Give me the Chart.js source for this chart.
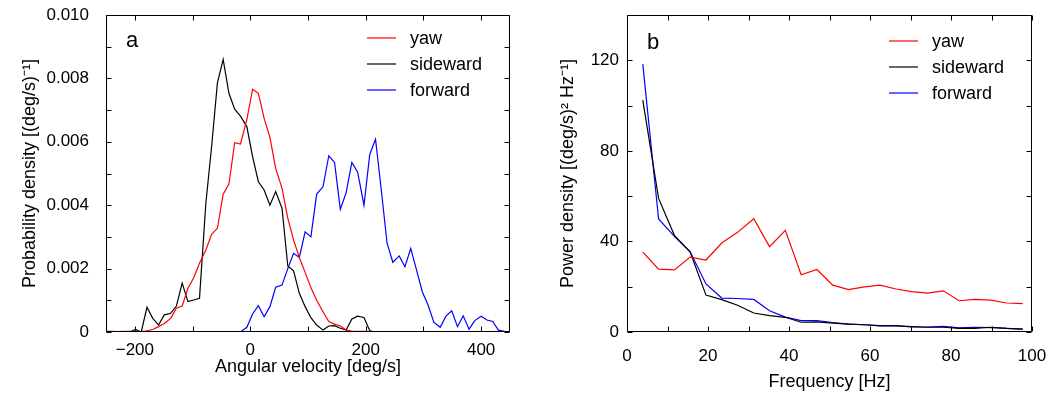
<!DOCTYPE html>
<html>
<head>
<meta charset="utf-8">
<script src="https://cdn.jsdelivr.net/npm/chart.js@4.4.1/dist/chart.umd.min.js"></script>
<style>
  body { margin: 0; background: #fff; }
  #quadro { position: relative; width: 1050px; height: 394px; font-family: 'Liberation Sans', Arial, sans-serif; color: #000; }
  canvas { position: absolute; top: 0; }
  #graficoA { left: 0; }
  #graficoB { left: 525px; }
  .letra { position: absolute; font-size: 22px; line-height: 1; }
</style>
</head>
<body>
<div id="quadro">
  <canvas id="graficoA" width="525" height="394"></canvas>
  <canvas id="graficoB" width="525" height="394"></canvas>
  <div class="letra" style="left:126px; top:29px">a</div>
  <div class="letra" style="left:647px; top:31px">b</div>
</div>
<script>
// painel a - densidade de probabilidade da velocidade angular
const angulos = [
  -250, -240, -230, -220, -209, -199, -189, -179, -169, -159,
  -149, -138, -128, -118, -108, -98, -88, -77, -67, -57,
  -47, -37, -27, -17, -6, 4, 14, 24, 34, 44,
  55, 65, 75, 85, 95, 105, 115, 126, 136, 146,
  156, 166, 176, 186, 197, 207, 217, 227, 237, 247,
  258, 268, 278, 288, 298, 308, 318, 329, 339, 349,
  359, 369, 379, 389, 400, 410, 420, 430, 440, 450
];
const densYaw = [
  0.00002, 0.00002, 0.00001, 0.00002, 0.00002, 0.00001, 0.00001, 0.00004, 0.00008, 0.00017,
  0.00027, 0.00043, 0.00075, 0.00082, 0.00138, 0.00171, 0.00217, 0.00259, 0.00308, 0.00327,
  0.00435, 0.00467, 0.00597, 0.00593, 0.0067, 0.00766, 0.00753, 0.00674, 0.00614, 0.00516,
  0.00453, 0.00359, 0.0029, 0.00235, 0.00188, 0.0014, 0.001, 0.00064, 0.00033, 0.00025,
  0.00019, 0.00006, 0.00003, 0.00002, 0.00002, 0.00001, 0.00001, 0.00001, 0.00001, 0.00001,
  0.00001, 0.00001, 0.00001, 0.00001, 0.00001, 0.00001, 0.00001, 0.00001, 0.00001, 0.00001,
  0.00001, 0.00001, 0.00001, 0.00001, 0.00001, 0.00001, 0.00001, 0.00001, 0.00001, 0.00001
];
const densLateral = [
  0, 0, 0, 0, 0, 0.00008, 0, 0.00078, 0.00043, 0.00022,
  0.00054, 0.00059, 0.00082, 0.00154, 0.00096, 0.00101, 0.00106, 0.00406, 0.00585, 0.00785,
  0.0086, 0.00753, 0.00703, 0.00681, 0.00648, 0.00553, 0.00474, 0.00448, 0.004, 0.00443,
  0.0039, 0.00208, 0.00193, 0.00122, 0.0008, 0.00045, 0.00022, 0.00006, 0.00019, 0.0002,
  0.00012, 0.00006, 0.00041, 0.0005, 0.00046, 0.00004, 0, 0, 0, 0,
  0, 0, 0, 0, 0, 0, 0, 0, 0, 0,
  0, 0, 0, 0, 0, 0, 0, 0, 0, 0
];
const densFrente = [
  0, 0, 0, 0, 0, 0, 0, 0, 0, 0,
  0, 0, 0, 0, 0, 0, 0, 0, 0, 0,
  0, 0, 0, 0, 0.00015, 0.00057, 0.00083, 0.00048, 0.0008, 0.00141,
  0.00148, 0.002, 0.00248, 0.00235, 0.00316, 0.003, 0.00435, 0.00458, 0.00556, 0.00535,
  0.00387, 0.00439, 0.00535, 0.00504, 0.004, 0.0056, 0.00608, 0.00448, 0.0028, 0.0022,
  0.0024, 0.00206, 0.00264, 0.00196, 0.00127, 0.00085, 0.00031, 0.00015, 0.0005, 0.00067,
  0.00017, 0.00051, 0.00009, 0.00036, 0.0005, 0.00038, 0.00033, 0.00006, 0.00002, 0
];
const ticksXA = [-200, -100, 0, 100, 200, 300, 400];
const rotulosXA = ['\u2212200', '', '0', '', '200', '', '400'];
const ticksYA = [0, 0.001, 0.002, 0.003, 0.004, 0.005, 0.006, 0.007, 0.008, 0.009, 0.01];
const rotulosYA = ['0', '', '0.002', '', '0.004', '', '0.006', '', '0.008', '', '0.010'];

// painel b - densidade espectral de potencia
const frequencias = [
  3.9, 7.8, 11.7, 15.6, 19.5, 23.4, 27.3, 31.3, 35.2, 39.1,
  43.0, 46.9, 50.8, 54.7, 58.6, 62.5, 66.4, 70.3, 74.2, 78.1,
  82.0, 85.9, 89.8, 93.8, 97.7
];
const potYaw = [
  35.3, 27.8, 27.4, 33.1, 31.8, 39.3, 44.0, 50.0, 37.7, 44.9,
  25.3, 27.6, 20.7, 18.7, 19.9, 20.7, 19.0, 17.8, 17.2, 18.2,
  13.8, 14.4, 14.1, 12.8, 12.5
];
const potLateral = [
  102.4, 59.0, 42.7, 35.3, 16.3, 14.3, 11.8, 8.4, 7.2, 6.5,
  4.3, 4.5, 3.9, 3.5, 3.2, 2.7, 2.7, 2.4, 2.1, 2.1,
  1.6, 1.6, 2.1, 1.6, 1.3
];
const potFrente = [
  118.3, 49.9, 42.2, 35.4, 21.2, 15.0, 14.8, 14.4, 9.4, 6.6,
  5.0, 5.0, 4.2, 3.5, 3.2, 2.8, 2.8, 2.2, 2.2, 2.5,
  1.8, 2.1, 1.9, 1.6, 1.3
];
const ticksXB = [0, 10, 20, 30, 40, 50, 60, 70, 80, 90, 100];
const rotulosXB = ['0', '', '20', '', '40', '', '60', '', '80', '', '100'];
const ticksYB = [0, 20, 40, 60, 80, 100, 120, 140];
const rotulosYB = ['0', '', '40', '', '80', '', '120', ''];

const cores = {yaw: '#ff0000', sideward: '#000000', forward: '#0000ff'};

Chart.defaults.font.family = "'Liberation Sans', Arial, sans-serif";
Chart.defaults.color = '#000';

// caixa em volta da area do grafico, com tracinhos para dentro
const moldura = {
  id: 'moldura',
  afterDatasetsDraw(chart) {
    const ctx = chart.ctx;
    const esq = Math.round(chart.chartArea.left) + 0.5;
    const dir = Math.round(chart.chartArea.right) - 0.5;
    const topo = Math.round(chart.chartArea.top) + 0.5;
    const base = Math.round(chart.chartArea.bottom) - 0.5;
    ctx.save();
    ctx.strokeStyle = '#000';
    ctx.lineWidth = 1;
    ctx.beginPath();
    ctx.rect(esq, topo, dir - esq, base - topo);
    chart.scales.x.ticks.forEach(t => {
      const px = Math.round(chart.scales.x.getPixelForValue(t.value)) + 0.5;
      ctx.moveTo(px, base); ctx.lineTo(px, base - 5);
      ctx.moveTo(px, topo); ctx.lineTo(px, topo + 5);
    });
    chart.scales.y.ticks.forEach(t => {
      const py = Math.round(chart.scales.y.getPixelForValue(t.value)) + 0.5;
      ctx.moveTo(esq, py); ctx.lineTo(esq + 5, py);
      ctx.moveTo(dir, py); ctx.lineTo(dir - 5, py);
    });
    ctx.stroke();
    ctx.restore();
  }
};

// legenda dentro do grafico, no canto de cima a direita
const legendaInterna = {
  id: 'legendaInterna',
  afterDraw(chart, args, opts) {
    const ctx = chart.ctx;
    ctx.save();
    ctx.font = "18px 'Liberation Sans', Arial, sans-serif";
    ctx.textBaseline = 'middle';
    ctx.lineWidth = 1.2;
    chart.data.datasets.forEach((ds, i) => {
      const y = opts.y + i * 26;
      ctx.strokeStyle = ds.borderColor;
      ctx.beginPath();
      ctx.moveTo(opts.x, y);
      ctx.lineTo(opts.x + 29, y);
      ctx.stroke();
      ctx.fillStyle = '#000';
      ctx.fillText(ds.label, opts.x + 43, y + 1);
    });
    ctx.restore();
  }
};

// tira a folga que o Chart.js reserva para os rotulos das pontas
function semFolga(eixo) {
  eixo.paddingTop = 0;
  eixo.paddingBottom = 0;
  eixo.paddingLeft = 0;
  eixo.paddingRight = 0;
}

function serie(rotulo, xs, ys) {
  return {
    label: rotulo,
    data: xs.map((x, i) => ({x: x, y: ys[i]})),
    borderColor: cores[rotulo],
    borderWidth: 1.2,
    pointRadius: 0,
    tension: 0,
    fill: false
  };
}

const graficoA = new Chart(document.getElementById('graficoA'), {
  type: 'line',
  data: {
    datasets: [
      serie('yaw', angulos, densYaw),
      serie('sideward', angulos, densLateral),
      serie('forward', angulos, densFrente)
    ]
  },
  options: {
    responsive: false,
    animation: false,
    layout: {padding: {left: 0, right: 15, top: 15, bottom: 0}},
    plugins: {
      legend: {display: false},
      tooltip: {enabled: false},
      legendaInterna: {x: 367, y: 38}
    },
    scales: {
      x: {
        type: 'linear', min: -250, max: 450,
        grid: {display: false, drawTicks: false}, border: {display: false},
        afterBuildTicks: eixo => { eixo.ticks = ticksXA.map(v => ({value: v})); },
        afterFit: eixo => { eixo.height = 62; semFolga(eixo); },
        ticks: {font: {size: 17}, padding: 8, maxRotation: 0, autoSkip: false,
          callback: (v, i) => rotulosXA[i]},
        title: {display: true, text: 'Angular velocity [deg/s]', font: {size: 18}, padding: {top: 0, bottom: 16}}
      },
      y: {
        min: 0, max: 0.01,
        grid: {display: false, drawTicks: false}, border: {display: false},
        afterBuildTicks: eixo => { eixo.ticks = ticksYA.map(v => ({value: v})); },
        afterFit: eixo => { eixo.width = 106; semFolga(eixo); },
        ticks: {font: {size: 17}, padding: 17, autoSkip: false,
          callback: (v, i) => rotulosYA[i]},
        title: {display: true, text: 'Probability density [(deg/s)\u207B\u00B9]', font: {size: 18}, padding: {top: 19, bottom: 0}}
      }
    }
  },
  plugins: [moldura, legendaInterna]
});

const graficoB = new Chart(document.getElementById('graficoB'), {
  type: 'line',
  data: {
    datasets: [
      serie('yaw', frequencias, potYaw),
      serie('sideward', frequencias, potLateral),
      serie('forward', frequencias, potFrente)
    ]
  },
  options: {
    responsive: false,
    animation: false,
    layout: {padding: {left: 0, right: 18, top: 15, bottom: 0}},
    plugins: {
      legend: {display: false},
      tooltip: {enabled: false},
      legendaInterna: {x: 364, y: 41}
    },
    scales: {
      x: {
        type: 'linear', min: 0, max: 100,
        grid: {display: false, drawTicks: false}, border: {display: false},
        afterBuildTicks: eixo => { eixo.ticks = ticksXB.map(v => ({value: v})); },
        afterFit: eixo => { eixo.height = 62; semFolga(eixo); },
        ticks: {font: {size: 17}, padding: 14, maxRotation: 0, autoSkip: false,
          callback: (v, i) => rotulosXB[i]},
        title: {display: true, text: 'Frequency [Hz]', font: {size: 18}, padding: {top: 0, bottom: 1}}
      },
      y: {
        min: 0, max: 140,
        grid: {display: false, drawTicks: false}, border: {display: false},
        afterBuildTicks: eixo => { eixo.ticks = ticksYB.map(v => ({value: v})); },
        afterFit: eixo => { eixo.width = 102; semFolga(eixo); },
        ticks: {font: {size: 17}, padding: 8, autoSkip: false,
          callback: (v, i) => rotulosYB[i]},
        title: {display: true, text: 'Power density [(deg/s)\u00B2 Hz\u207B\u00B9]', font: {size: 18}, padding: {top: 32, bottom: 0}}
      }
    }
  },
  plugins: [moldura, legendaInterna]
});
</script>
</body>
</html>
